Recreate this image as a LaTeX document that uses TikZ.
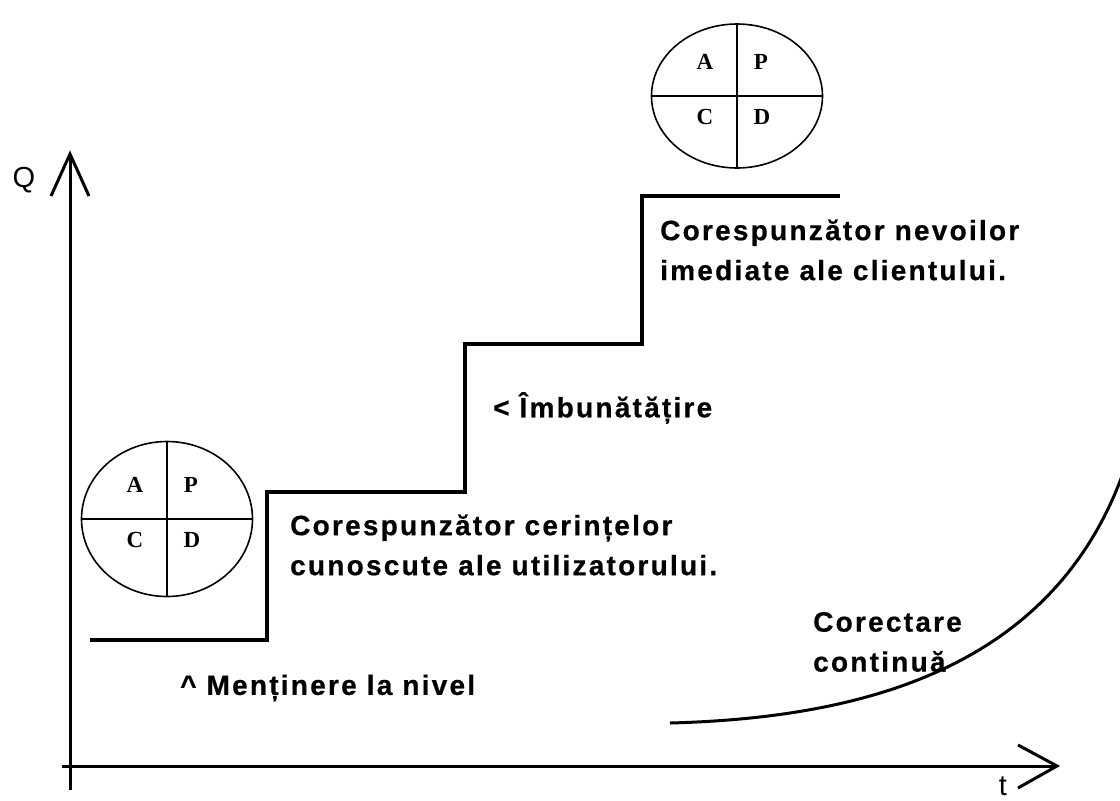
\documentclass[tikz,border=0pt]{standalone}
\usepackage{fontspec}
\setmainfont{Liberation Serif}
\newfontfamily\lblfont[LetterSpace=8,FakeBold=0.6]{Liberation Sans}
\newfontfamily\axfont{Liberation Sans}
\begin{document}
\begin{tikzpicture}[x=1pt,y=-1pt,
  axis/.style={line width=3pt},
  tip/.style={line width=3pt, line join=miter},
  stair/.style={line width=4pt, line join=miter},
  pdca/.style={line width=1.6pt},
  quarter/.style={font=\bfseries\fontsize{23}{23}\selectfont, inner sep=0pt},
  caption/.style={font=\lblfont\bfseries\fontsize{28}{40}\selectfont, align=left, inner sep=0pt, anchor=west},
  axlabel/.style={font=\axfont\fontsize{29}{29}\selectfont, inner sep=0pt}]
\useasboundingbox (0,0) rectangle (1120,801);

% axes
\coordinate (yb) at (70,790);
\coordinate (yt) at (70,154);
\coordinate (xl) at (62,766);
\coordinate (xr) at (1057,766);
\draw[axis] (yb) -- (yt);
\draw[tip] (51,196) -- (yt) -- (89,196);
\draw[axis] (xl) -- (xr);
\draw[tip] (1018,745) -- (xr) -- (1018,788);
\node[axlabel] (q) at (24,180) {Q};
\node[axlabel] (t) at (1003,786) {t};

% quality staircase
\coordinate (s0) at (90,640);
\coordinate (s1) at (267,640);
\coordinate (s2) at (267,492);
\coordinate (s3) at (465,492);
\coordinate (s4) at (465,344);
\coordinate (s5) at (642,344);
\coordinate (s6) at (642,196);
\coordinate (s7) at (840,196);
\draw[stair] (s0) -- (s1) -- (s2) -- (s3) -- (s4) -- (s5) -- (s6) -- (s7);

% continuous correction curve
\coordinate (c0) at (670,723);
\coordinate (c1) at (1122,476);
\draw[line width=3pt] (c0) .. controls (860,718) and (1050,670) .. (c1);

% PDCA wheels
\foreach \nm/\cx/\cy/\ry in {lo/167/519/77.5, hi/737/96/72}{
  \coordinate (\nm) at (\cx,\cy);
  \draw[pdca] (\nm) ellipse [x radius=85.5, y radius=\ry];
  \draw[pdca] (\cx-85.5,\cy) -- (\cx+85.5,\cy);
  \draw[pdca] (\cx,\cy-\ry) -- (\cx,\cy+\ry);
  \node[quarter] (\nm A) at (\cx-32,\cy-34) {A};
  \node[quarter] (\nm P) at (\cx+24,\cy-34) {P};
  \node[quarter] (\nm C) at (\cx-32,\cy+21) {C};
  \node[quarter] (\nm D) at (\cx+25,\cy+21) {D};
}

% captions
\node[caption] (immediate) at (660,250) {Corespunzător nevoilor\\imediate ale clientului.};
\node[caption] (improve) at (493,408) {< Îmbunătățire};
\node[caption] (known) at (290,545) {Corespunzător cerințelor\\cunoscute ale utilizatorului.};
\node[caption] (keep) at (180,688) {\^{} Menținere la nivel};
\node[caption] (correct) at (813,642) {Corectare\\continuă};
\end{tikzpicture}
\end{document}
